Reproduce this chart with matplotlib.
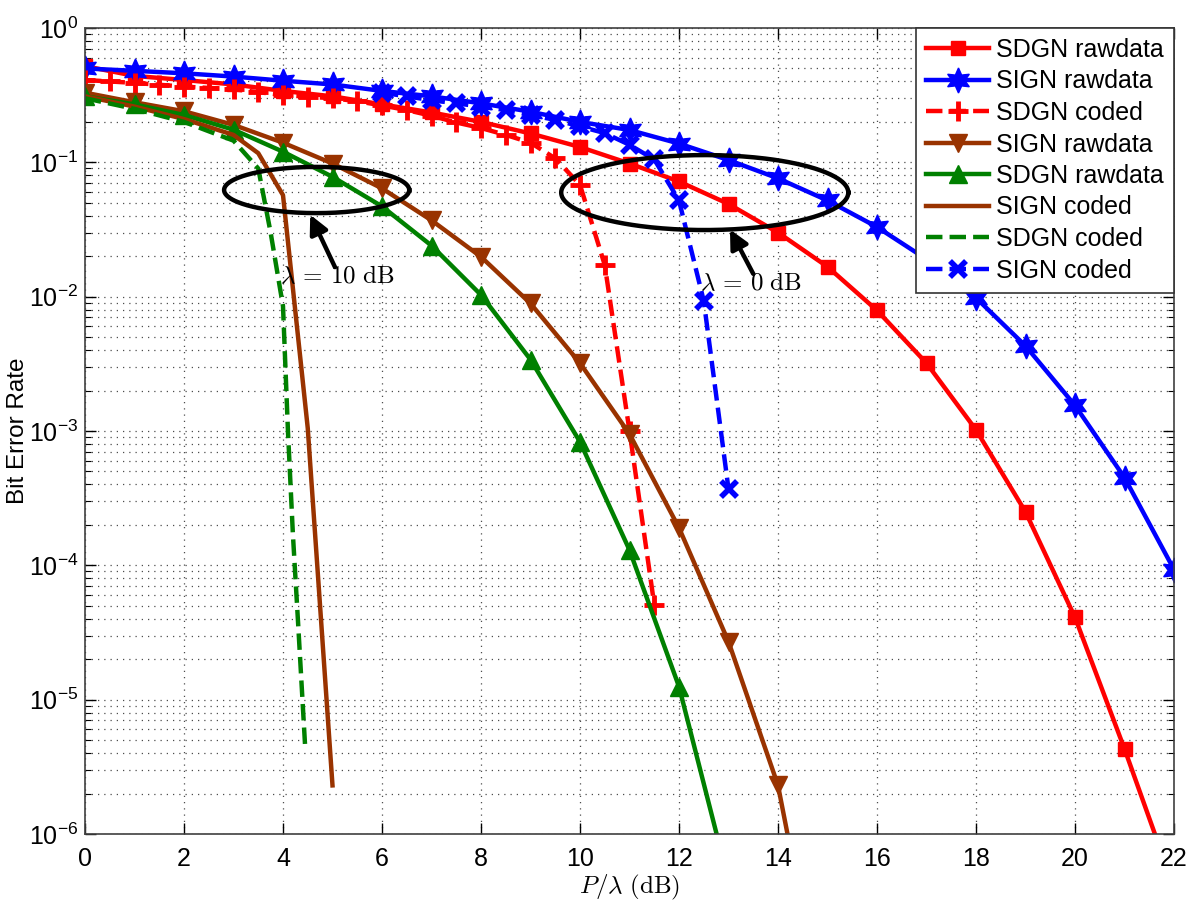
import numpy as np
import matplotlib
matplotlib.use("Agg")
import matplotlib.pyplot as plt

plt.rcParams['font.family'] = ['Liberation Sans', 'DejaVu Sans']

# SDGN rawdata (red squares)
x_sdgn_raw = [0, 1, 2, 3, 4, 5, 6, 7, 8, 9, 10, 11, 12, 13, 14, 15, 16, 17, 18, 19, 20, 21, 22]
y_sdgn_raw = [0.52, 0.44, 0.41, 0.38, 0.34, 0.31, 0.27, 0.235, 0.2, 0.164, 0.13, 0.098, 0.072,
              0.049, 0.030, 0.0167, 0.0079, 3.2e-3, 1.02e-3, 2.5e-4, 4.1e-5, 4.3e-6, 4e-7]

# SIGN rawdata (blue stars)
x_sign_raw = [0, 1, 2, 3, 4, 5, 6, 7, 8, 9, 10, 11, 12, 13, 14, 15, 16, 17, 18, 19, 20, 21, 22]
y_sign_raw = [0.50, 0.48, 0.46, 0.435, 0.405, 0.38, 0.34, 0.31, 0.275, 0.238, 0.20, 0.174, 0.138,
              0.104, 0.076, 0.052, 0.033, 0.019, 9.8e-3, 4.3e-3, 1.55e-3, 4.5e-4, 9.3e-5]

# SDGN coded (red dashed, plus)
x_sdgn_cod = [0, 0.5, 1, 1.5, 2, 2.5, 3, 3.5, 4, 4.5, 5, 5.5, 6, 6.5, 7, 7.5, 8, 8.5, 9, 9.5,
              10, 10.5, 11, 11.5]
y_sdgn_cod = [0.41, 0.40, 0.39, 0.378, 0.366, 0.358, 0.35, 0.333, 0.317, 0.308, 0.30, 0.285,
              0.265, 0.245, 0.222, 0.198, 0.18, 0.16, 0.14, 0.107, 0.068, 0.0172, 1.0e-3, 5.1e-5]

# SIGN rawdata (brown down triangles)
x_sign_raw2 = [0, 1, 2, 3, 4, 5, 6, 7, 8, 9, 10, 11, 12, 13, 14, 15]
y_sign_raw2 = [0.33, 0.28, 0.24, 0.19, 0.14, 0.098, 0.064, 0.037, 0.0198, 0.0089, 3.2e-3,
               9.5e-4, 1.9e-4, 2.7e-5, 2.3e-6, 3e-8]

# SDGN rawdata (green up triangles)
x_sdgn_raw2 = [0, 1, 2, 3, 4, 5, 6, 7, 8, 9, 10, 11, 12, 13]
y_sdgn_raw2 = [0.31, 0.27, 0.225, 0.175, 0.12, 0.078, 0.047, 0.024, 0.0103, 3.4e-3, 8.3e-4,
               1.3e-4, 1.25e-5, 4.5e-7]

# SIGN coded (brown solid)
x_sign_cod2 = [0, 1, 2, 3, 3.5, 4, 4.5, 5]
y_sign_cod2 = [0.31, 0.26, 0.21, 0.16, 0.117, 0.057, 1.05e-3, 2.3e-6]

# SDGN coded (green dashed)
x_sdgn_cod2 = [0, 1, 2, 3, 3.5, 3.75, 4.0, 4.1, 4.2, 4.3, 4.45]
y_sdgn_cod2 = [0.30, 0.25, 0.2, 0.145, 0.09, 0.03, 8.5e-3, 1.0e-3, 1.7e-4, 4e-5, 4.3e-6]

# SIGN coded (blue dashed, x)
x_sign_cod = [6, 6.5, 7, 7.5, 8, 8.5, 9, 9.5, 10, 10.5, 11, 11.5, 12, 12.5, 13]
y_sign_cod = [0.33, 0.31, 0.29, 0.275, 0.26, 0.245, 0.225, 0.207, 0.185, 0.165, 0.135, 0.105,
              0.052, 9.3e-3, 3.7e-4]

labels = ["SDGN rawdata", "SIGN rawdata", "SDGN coded", "SIGN rawdata",
          "SDGN rawdata", "SIGN coded", "SDGN coded", "SIGN coded"]

red = (1, 0, 0)
blue = (0, 0, 1)
brown = (0.6, 0.2, 0)
green = (0, 0.5, 0)

fig = plt.figure(figsize=(12, 9.14), dpi=100)
ax = fig.add_axes([85 / 1200, 1 - 834 / 914, (1174 - 85) / 1200, (834 - 28) / 914])

lw = 3.2
ax.plot(x_sdgn_raw, y_sdgn_raw, '-', color=red, lw=lw, marker='s', ms=10,
        mfc=red, mec=red, label=labels[0])
ax.plot(x_sign_raw, y_sign_raw, '-', color=blue, lw=lw, marker=(6, 1, 0), ms=18,
        mfc=blue, mec=blue, label=labels[1])
ax.plot(x_sdgn_cod, y_sdgn_cod, '--', color=red, lw=lw, marker='+', ms=15, mew=3.5,
        mec=red, label=labels[2])
ax.plot(x_sign_raw2, y_sign_raw2, '-', color=brown, lw=lw, marker='v', ms=13,
        mfc=brown, mec=brown, label=labels[3])
ax.plot(x_sdgn_raw2, y_sdgn_raw2, '-', color=green, lw=lw, marker='^', ms=13,
        mfc=green, mec=green, label=labels[4])
ax.plot(x_sign_cod2, y_sign_cod2, '-', color=brown, lw=lw, label=labels[5])
ax.plot(x_sdgn_cod2, y_sdgn_cod2, '--', color=green, lw=lw, label=labels[6])
ax.plot(x_sign_cod, y_sign_cod, '--', color=blue, lw=lw, marker='x', ms=12, mew=4,
        mec=blue, label=labels[7])

# ellipses marking the two lambda groups (centre dB, centre log10, half widths)
t = np.linspace(0, 2 * np.pi, 300)
for cx, cy, rx, ry in [(4.68, -1.206, 1.87, 0.172), (12.52, -1.225, 2.9, 0.279)]:
    ax.plot(cx + rx * np.cos(t), 10 ** (cy + ry * np.sin(t)), color='k', lw=3.2)

arrow = dict(arrowstyle='-|>', lw=3.2, color='k', mutation_scale=28, shrinkA=0, shrinkB=0)
ax.annotate('', xy=(4.55, 10 ** -1.39), xytext=(5.05, 10 ** -1.78), arrowprops=arrow)
ax.annotate('', xy=(13.03, 10 ** -1.50), xytext=(13.5, 10 ** -1.83), arrowprops=arrow)
ax.text(3.94, 10 ** -1.85, r'$\lambda\,=\,10\ \mathrm{dB}$', fontsize=18,
        math_fontfamily='cm', va='center', ha='left')
ax.text(12.42, 10 ** -1.90, r'$\lambda\,=\,0\ \mathrm{dB}$', fontsize=18,
        math_fontfamily='cm', va='center', ha='left')

ax.set_yscale('log')
ax.set_xlim(0, 22)
ax.set_ylim(1e-6, 1)
ax.set_xticks(np.arange(0, 23, 2))
ax.set_xlabel(r'$P/\lambda\ (\mathrm{dB})$', fontsize=18, math_fontfamily='cm', labelpad=2)
ax.set_ylabel('Bit Error Rate', fontsize=17.5)
ax.yaxis.set_label_coords(-0.051, 0.5)

ax.tick_params(which='both', direction='in', top=True, right=True, labelsize=18)
ax.tick_params(which='major', length=8, width=1, pad=9)
ax.tick_params(which='minor', length=4.5, width=0.8)
ax.tick_params(axis='y', which='major', pad=5)
ax.tick_params(axis='x', which='minor', bottom=False, top=False)
for s in ax.spines.values():
    s.set_color('0.25')
    s.set_linewidth(1.2)

ax.grid(True, which='major', linestyle=(0, (1, 4)), color='0.3', lw=0.9)
ax.grid(True, which='minor', axis='y', linestyle=(0, (1, 4)), color='0.3', lw=0.9)

leg = ax.legend(loc='upper right', fontsize=18, handlelength=2.5, handletextpad=0.3,
                labelspacing=0.3, borderpad=0.4, borderaxespad=0, fancybox=False,
                framealpha=1, edgecolor='0.2')
leg.get_frame().set_linewidth(1.2)

fig.savefig('out.png', dpi=100)
